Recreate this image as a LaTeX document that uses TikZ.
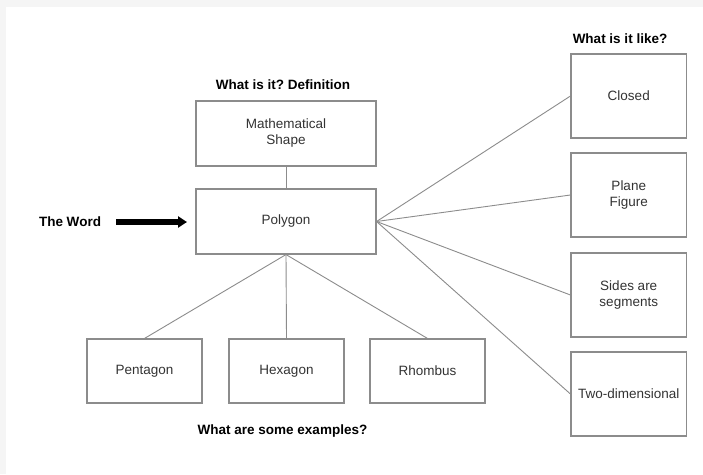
\documentclass[tikz,border=0pt]{standalone}
\usepackage{fontspec}
\setmainfont{Liberation Sans}
\usetikzlibrary{arrows.meta}
\definecolor{boxline}{HTML}{8C8C8C}
\definecolor{txt}{HTML}{333333}
\frenchspacing
\begin{document}
\begin{tikzpicture}[x=1pt, y=-1pt,
		every node/.style={font=\fontsize{13.5}{16}\selectfont, text=txt},
		conceptbox/.style={draw=boxline, line width=1.1pt, inner sep=0pt, align=center},
		wide/.style={minimum width=180pt, minimum height=65pt},
		example/.style={minimum width=115pt, minimum height=64pt},
		trait/.style={minimum width=115.5pt, minimum height=84pt},
		heading/.style={font=\fontsize{13.5}{16}\selectfont\bfseries, text=black},
		link/.style={draw=boxline, line width=0.9pt} ]
	\useasboundingbox (0,0) rectangle (703,474);
	\fill[black!4] (0,0) rectangle (703,474);
	\fill[white] (6,7) rectangle (703,474);
	% centre column
	\node[conceptbox, wide] (shape) at (286,133.5) {Mathematical\\Shape};
	\node[conceptbox, wide] (polygon) at (286,221.5) {Polygon};
	% examples
	\node[conceptbox, example] (pentagon) at (144.5,371) {Pentagon};
	\node[conceptbox, example] (hexagon) at (286.5,371) {Hexagon};
	\node[conceptbox, example] (rhombus) at (427.5,371) {Rhombus};
	% what is it like
	\node[conceptbox, trait] (closed) at (628.75,96) {Closed};
	\node[conceptbox, trait] (plane) at (628.75,195) {Plane\\Figure};
	\node[conceptbox, trait] (sides) at (628.75,295) {Sides are\\segments};
	\node[conceptbox, trait] (twodim) at (628.75,394) {Two-dimensional};
	% headings
	\node[heading] (definition) at (283,85) {What is it? Definition};
	\node[heading] (examples) at (282.5,431) {What are some examples?};
	\node[heading] (like) at (620,39) {What is it like?};
	\node[heading] (word) at (70,222) {The Word};
	\coordinate (arrowstart) at (116,222);
	\coordinate (arrowend) at (187,222);
	\draw[line width=5.5pt, -{Triangle[length=9pt, width=11pt]}] (arrowstart) -- (arrowend);
	% connectors
	\draw[link] (shape.south) -- (polygon.north);
	\foreach \x in {pentagon, hexagon, rhombus}
		\draw[link] (polygon.south) -- (\x.north);
	\foreach \x in {closed, plane, sides, twodim}
		\draw[link] (polygon.east) -- (\x.west);
\end{tikzpicture}
\end{document}
